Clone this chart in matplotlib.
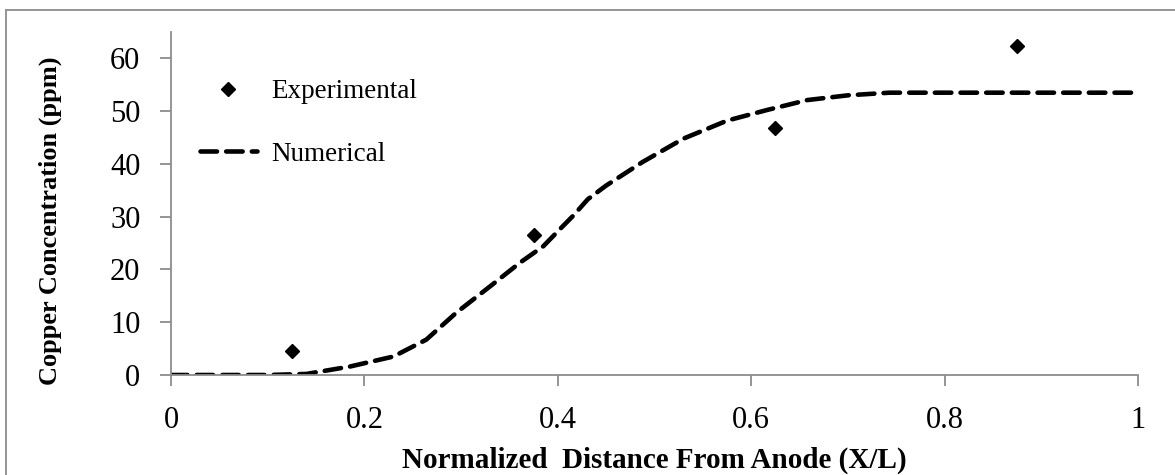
import matplotlib
matplotlib.use("Agg")
import matplotlib.pyplot as plt
from matplotlib.patches import Rectangle

plt.rcParams['font.family'] = ['Liberation Serif', 'DejaVu Serif']

# experimental measurements
exp_x = [0.125, 0.375, 0.625, 0.875]
exp_y = [4.6, 26.5, 46.9, 62.4]

# numerical profile
num_x = [0.0, 0.05, 0.10, 0.14, 0.185, 0.23, 0.264, 0.295, 0.33, 0.361, 0.385,
         0.402, 0.416, 0.431, 0.45, 0.488, 0.53, 0.575, 0.616, 0.658, 0.70,
         0.743, 0.80, 0.90, 1.0]
num_y = [0.0, 0.0, 0.0, 0.2, 1.6, 3.5, 6.7, 11.8, 16.8, 21.3, 24.4,
         27.6, 30.2, 33.3, 35.9, 40.4, 44.8, 48.2, 50.2, 52.1, 53.0,
         53.5, 53.5, 53.5, 53.5]

x_ticks = [0, 0.2, 0.4, 0.6, 0.8, 1]
x_ticklabels = ['0', '0.2', '0.4', '0.6', '0.8', '1']
y_ticks = [0, 10, 20, 30, 40, 50, 60]

W, H = 1175, 475
fig = plt.figure(figsize=(W / 100, H / 100), dpi=100)
ax = fig.add_axes([171 / W, 1 - 375 / H, (1138 - 171) / W, (375 - 32) / H])

# outer frame like the exported chart area
fig.patches.append(Rectangle((6 / W, -0.1), 1.2, 1 - 9.5 / H + 0.1,
                             transform=fig.transFigure, fill=False,
                             edgecolor='#8c8c8c', linewidth=1.3))

ax.plot(exp_x, exp_y, linestyle='none', marker='D', markersize=7.5,
        color='black', label='Experimental')
ax.plot(num_x, num_y, color='black', linewidth=3.3, dashes=(3.6, 2.0),
        dash_capstyle='round', label='Numerical')

ax.set_xlim(0, 1)
ax.set_ylim(0, 65)
ax.set_xticks(x_ticks)
ax.set_xticklabels(x_ticklabels)
ax.set_yticks(y_ticks)

for s in ['top', 'right']:
    ax.spines[s].set_visible(False)
for s in ['left', 'bottom']:
    ax.spines[s].set_color('#8c8c8c')
    ax.spines[s].set_linewidth(1.3)
ax.tick_params(axis='both', direction='out', length=8, width=1.3,
               color='#8c8c8c', labelsize=22, pad=14)

ax.set_xlabel('Normalized  Distance From Anode (X/L)', fontsize=21,
              fontweight='bold')
ax.xaxis.set_label_coords(0.5, -0.208)
ax.set_ylabel('Copper Concentration (ppm)', fontsize=19, fontweight='bold')
ax.yaxis.set_label_coords(-0.113, 0.449)

ax.legend(loc='upper left', bbox_to_anchor=(200 / W, 1 - 79 / H),
          bbox_transform=fig.transFigure, frameon=False, fontsize=19.5,
          handlelength=2.1, handletextpad=0.55, labelspacing=1.4,
          borderpad=0, borderaxespad=0)

fig.savefig('out.png', dpi=100)
